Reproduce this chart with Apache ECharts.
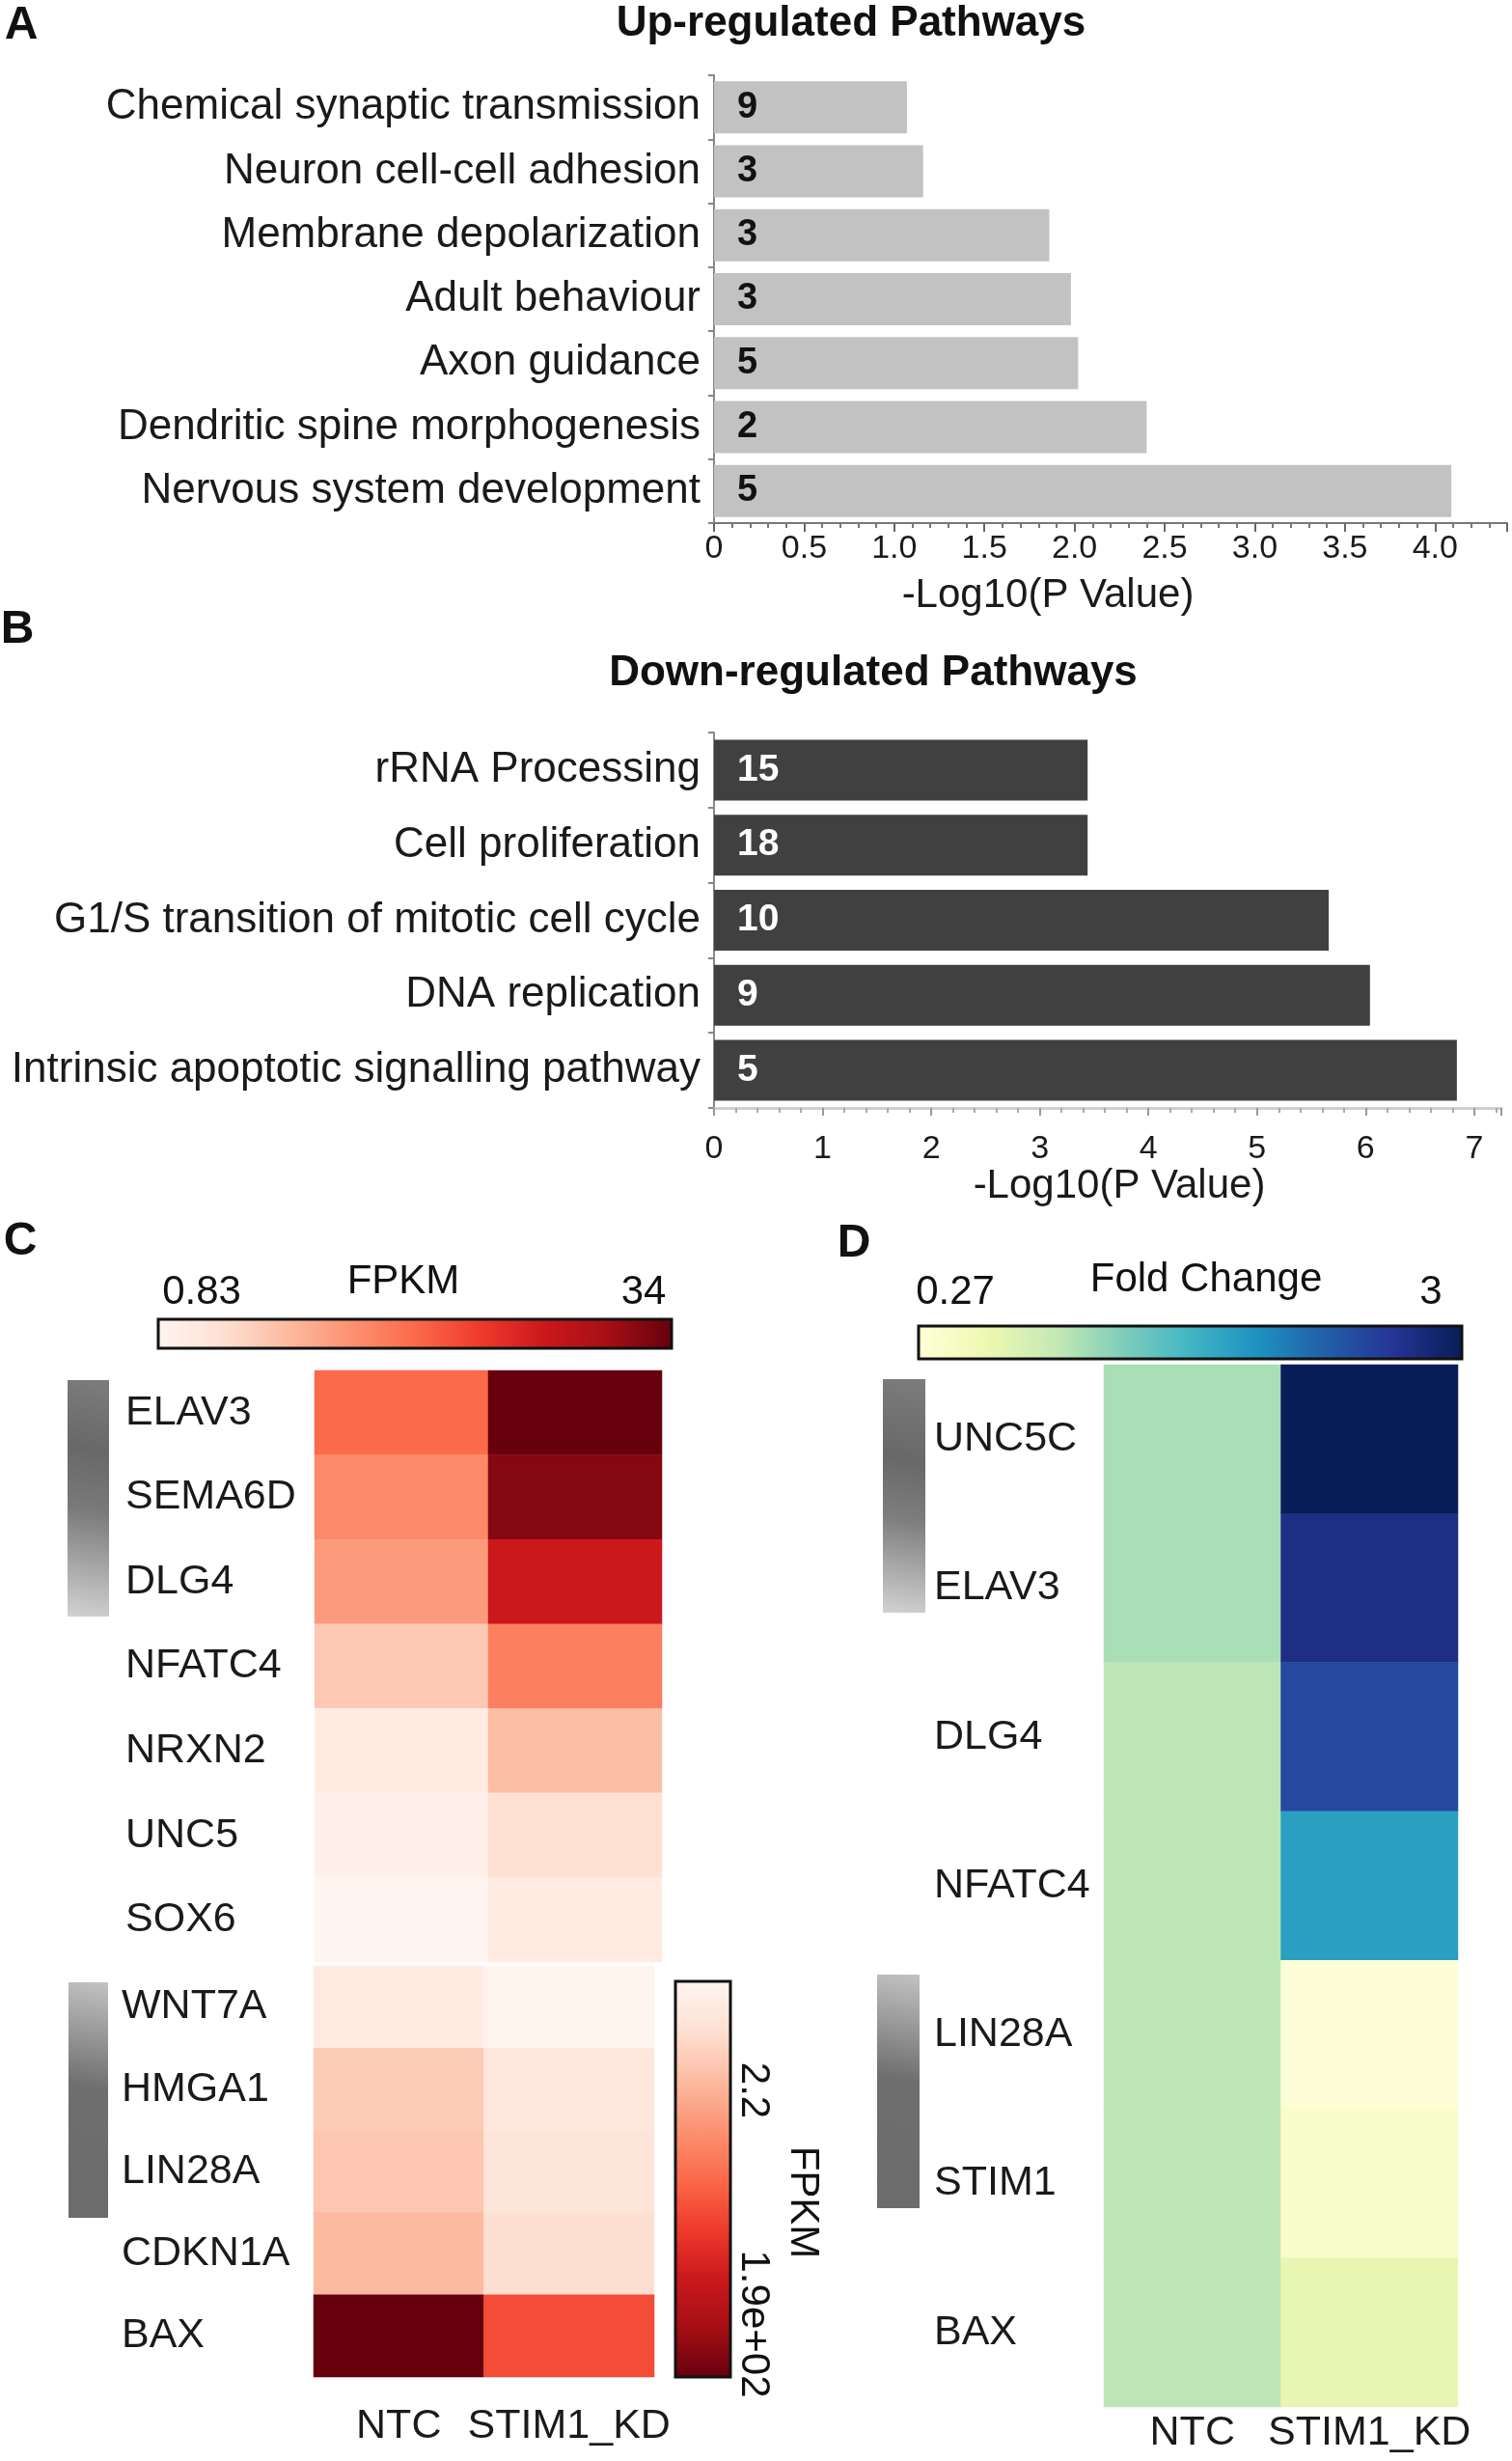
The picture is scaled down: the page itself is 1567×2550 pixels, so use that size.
<!DOCTYPE html>
<html>
<head>
<meta charset="utf-8">
<script src="https://cdn.jsdelivr.net/npm/echarts@6/dist/echarts.min.js"></script>
<style>
html,body{margin:0;padding:0;background:#fff;}
#chart{width:1567px;height:2550px;}
</style>
</head>
<body>
<div id="chart"></div>
<script>
// ---------- data ----------
const upCategories = ['Chemical synaptic transmission','Neuron cell-cell adhesion','Membrane depolarization','Adult behaviour','Axon guidance','Dendritic spine morphogenesis','Nervous system development'];
const upValues = [1.07, 1.16, 1.86, 1.98, 2.02, 2.40, 4.09];
const upCounts = [9, 3, 3, 3, 5, 2, 5];

const downCategories = ['rRNA Processing','Cell proliferation','G1/S transition of mitotic cell cycle','DNA replication','Intrinsic apoptotic signalling pathway'];
const downValues = [3.44, 3.44, 5.66, 6.04, 6.84];
const downCounts = [15, 18, 10, 9, 5];

const upTicks = ['0','0.5','1.0','1.5','2.0','2.5','3.0','3.5','4.0'];
const downTicks = ['0','1','2','3','4','5','6','7'];

const conditions = ['NTC','STIM1_KD'];

const neuroGenes = ['ELAV3','SEMA6D','DLG4','NFATC4','NRXN2','UNC5','SOX6'];
const neuroNTC = [17.4, 14.1, 12.4, 7.5, 2.8, 1.8, 1.0];
const neuroKD  = [34.0, 32.0, 25.7, 15.2, 8.8, 4.8, 2.8];

const prolifGenes = ['WNT7A','HMGA1','LIN28A','CDKN1A','BAX'];
const prolifNTC = [13.5, 39, 42, 49, 190];
const prolifKD  = [4.1, 17.8, 20, 25.7, 111];

const foldGenes = ['UNC5C','ELAV3','DLG4','NFATC4','LIN28A','STIM1','BAX'];
const foldNTC = [1.09, 1.09, 1.0, 1.0, 1.0, 1.0, 1.0];
const foldKD  = [3.0, 2.75, 2.49, 1.85, 0.30, 0.41, 0.655];

const fpkmRange1 = [0.83, 34];
const fpkmRange2 = [2.2, 190];
const foldRange = [0.27, 3];

// ---------- helpers ----------
const FONT = '"Liberation Sans", Arial, Helvetica, sans-serif';
const REDS = ['#fff5f0','#fee0d2','#fcbba1','#fc9272','#fb6a4a','#ef3b2c','#cb181d','#a50f15','#67000d'];
const YLGNBU = ['#ffffd9','#edf8b1','#c7e9b4','#7fcdbb','#41b6c4','#1d91c0','#225ea8','#253494','#081d58'];

function heat(ntc, kd) {
  const d = [];
  ntc.forEach((v, i) => d.push([0, i, v]));
  kd.forEach((v, i) => d.push([1, i, v]));
  return d;
}
function tickFormatter(labels, step) {
  return function (v) {
    const k = v / step;
    if (Math.abs(k - Math.round(k)) > 1e-6) return '';
    const idx = Math.round(k);
    return labels[idx] !== undefined ? labels[idx] : '';
  };
}
function txt(x, y, text, size, opts) {
  opts = opts || {};
  return {
    type: 'text', x: x, y: y, rotation: opts.rotation || 0, z: 100,
    style: {
      text: text, font: (opts.weight || 'normal') + ' ' + size + 'px ' + FONT,
      fill: opts.color || '#111', textAlign: opts.align || 'center', textVerticalAlign: 'middle'
    }
  };
}
function frame(x, y, w, h) {
  return { type: 'rect', z: 100, shape: { x: x, y: y, width: w, height: h },
           style: { fill: 'none', stroke: '#111', lineWidth: 3 } };
}
function shade(x, y, w, h, stops) {
  return { type: 'rect', z: 50, shape: { x: x, y: y, width: w, height: h },
           style: { fill: { type: 'linear', x: 1, y: 0, x2: 0, y2: 1,
             colorStops: stops.map(s => ({ offset: s[0], color: s[1] })) } } };
}

const catLabelStyle = { fontFamily: FONT, fontSize: 44, color: '#1a1a1a' };
const geneLabelStyle = { fontFamily: FONT, fontSize: 43, color: '#1a1a1a', align: 'left' };

const chart = echarts.init(document.getElementById('chart'), null, { renderer: 'canvas' });

const option = {
  backgroundColor: '#ffffff',
  animation: false,
  grid: [
    { left: 740, top: 78, width: 822, height: 464 },
    { left: 740, top: 759, width: 816, height: 389 },
    { left: 326, top: 1420, width: 360, height: 613 },
    { left: 325, top: 2037, width: 353, height: 426 },
    { left: 1144, top: 1414, width: 367, height: 1080 }
  ],
  xAxis: [
    { gridIndex: 0, type: 'value', min: 0, max: 4.4, interval: 0.5,
      name: '-Log10(P Value)', nameLocation: 'middle', nameGap: 54,
      nameTextStyle: { fontFamily: FONT, fontSize: 42, color: '#1a1a1a', padding: [0, 130, 0, 0] },
      axisLine: { show: true, lineStyle: { color: '#777', width: 2 } },
      axisTick: { show: true, length: 9, lineStyle: { color: '#666', width: 2 } },
      minorTick: { show: true, splitNumber: 5, length: 5, lineStyle: { color: '#777', width: 2 } },
      splitLine: { show: false },
      axisLabel: { margin: 10, fontFamily: FONT, fontSize: 34, color: '#1a1a1a',
                   formatter: tickFormatter(upTicks, 0.5), showMaxLabel: false } },
    { gridIndex: 1, type: 'value', min: 0, max: 7.25, interval: 1,
      name: '-Log10(P Value)', nameLocation: 'middle', nameGap: 60,
      nameTextStyle: { fontFamily: FONT, fontSize: 42, color: '#1a1a1a', padding: [0, 0, 0, 24] },
      axisLine: { show: true, lineStyle: { color: '#cfcfcf', width: 3 } },
      axisTick: { show: true, length: 8, lineStyle: { color: '#999', width: 2 } },
      minorTick: { show: true, splitNumber: 5, length: 5, lineStyle: { color: '#aaa', width: 2 } },
      splitLine: { show: false },
      axisLabel: { margin: 26, fontFamily: FONT, fontSize: 34, color: '#1a1a1a',
                   formatter: tickFormatter(downTicks, 1), showMaxLabel: false } },
    { gridIndex: 2, type: 'category', data: conditions, axisLine: { show: false }, axisTick: { show: false }, axisLabel: { show: false }, splitLine: { show: false } },
    { gridIndex: 3, type: 'category', data: conditions, axisLine: { show: false }, axisTick: { show: false },
      axisLabel: { show: true, interval: 0, margin: 30, fontFamily: FONT, fontSize: 43, color: '#1a1a1a' } },
    { gridIndex: 4, type: 'category', data: conditions, axisLine: { show: false }, axisTick: { show: false },
      axisLabel: { show: true, interval: 0, margin: 6, fontFamily: FONT, fontSize: 43, color: '#1a1a1a' } }
  ],
  yAxis: [
    { gridIndex: 0, type: 'category', data: upCategories, inverse: true,
      axisLine: { show: true, lineStyle: { color: '#888', width: 2 } },
      axisTick: { show: true, length: 6, lineStyle: { color: '#888', width: 2 } },
      axisLabel: Object.assign({ margin: 14, interval: 0 }, catLabelStyle) },
    { gridIndex: 1, type: 'category', data: downCategories, inverse: true,
      axisLine: { show: true, lineStyle: { color: '#888', width: 2 } },
      axisTick: { show: true, length: 6, lineStyle: { color: '#888', width: 2 } },
      axisLabel: Object.assign({ margin: 14, interval: 0 }, catLabelStyle) },
    { gridIndex: 2, type: 'category', data: neuroGenes, inverse: true,
      axisLine: { show: false }, axisTick: { show: false },
      axisLabel: Object.assign({ margin: 196, interval: 0 }, geneLabelStyle) },
    { gridIndex: 3, type: 'category', data: prolifGenes, inverse: true,
      axisLine: { show: false }, axisTick: { show: false },
      axisLabel: Object.assign({ margin: 199, interval: 0 }, geneLabelStyle) },
    { gridIndex: 4, type: 'category', data: foldGenes, inverse: true,
      axisLine: { show: false }, axisTick: { show: false },
      axisLabel: Object.assign({ margin: 176, interval: 0 }, geneLabelStyle) }
  ],
  visualMap: [
    { type: 'continuous', seriesIndex: 2, min: fpkmRange1[0], max: fpkmRange1[1],
      orient: 'horizontal', left: 164, top: 1367, itemWidth: 30, itemHeight: 532,
      padding: 0, calculable: false, text: null, showLabel: false,
      inRange: { color: REDS } },
    { type: 'continuous', seriesIndex: 3, min: fpkmRange2[0], max: fpkmRange2[1],
      orient: 'vertical', inverse: true, left: 700, top: 2053, itemWidth: 57, itemHeight: 410,
      padding: 0, calculable: false, text: null,
      inRange: { color: REDS } },
    { type: 'continuous', seriesIndex: 4, min: foldRange[0], max: foldRange[1],
      orient: 'horizontal', left: 952, top: 1374, itemWidth: 34, itemHeight: 563,
      padding: 0, calculable: false, text: null,
      inRange: { color: YLGNBU } }
  ],
  series: [
    { type: 'bar', xAxisIndex: 0, yAxisIndex: 0, data: upValues, barWidth: 54,
      itemStyle: { color: '#c2c2c2' },
      label: { show: true, position: 'insideLeft', distance: 24, fontFamily: FONT, fontSize: 38, fontWeight: 'bold', color: '#111',
               formatter: p => String(upCounts[p.dataIndex]) } },
    { type: 'bar', xAxisIndex: 1, yAxisIndex: 1, data: downValues, barWidth: 63,
      itemStyle: { color: '#404040' },
      label: { show: true, position: 'insideLeft', distance: 24, fontFamily: FONT, fontSize: 39, fontWeight: 'bold', color: '#ffffff',
               formatter: p => String(downCounts[p.dataIndex]) } },
    { type: 'heatmap', xAxisIndex: 2, yAxisIndex: 2, data: heat(neuroNTC, neuroKD),
      itemStyle: { borderWidth: 0 }, emphasis: { disabled: true } },
    { type: 'heatmap', xAxisIndex: 3, yAxisIndex: 3, data: heat(prolifNTC, prolifKD),
      itemStyle: { borderWidth: 0 }, emphasis: { disabled: true } },
    { type: 'heatmap', xAxisIndex: 4, yAxisIndex: 4, data: heat(foldNTC, foldKD),
      itemStyle: { borderWidth: 0 }, emphasis: { disabled: true } }
  ],
  graphic: [
    txt(22, 27, 'A', 48, { weight: 'bold' }),
    txt(882, 25, 'Up-regulated Pathways', 44, { weight: 'bold' }),
    txt(18, 653, 'B', 48, { weight: 'bold' }),
    txt(905, 698, 'Down-regulated Pathways', 44, { weight: 'bold' }),
    txt(21, 1287, 'C', 48, { weight: 'bold' }),
    txt(885, 1289, 'D', 48, { weight: 'bold' }),
    // colour bar captions
    txt(209, 1339, '0.83', 42),
    txt(418, 1328, 'FPKM', 42),
    txt(667, 1339, '34', 42),
    txt(990, 1339, '0.27', 42),
    txt(1250, 1326, 'Fold Change', 42),
    txt(1483, 1339, '3', 42),
    txt(781, 2166, '2.2', 42, { rotation: -Math.PI / 2 }),
    txt(781, 2408, '1.9e+02', 42, { rotation: -Math.PI / 2 }),
    txt(832, 2282, 'FPKM', 42, { rotation: -Math.PI / 2 }),
    frame(164, 1367, 532, 30),
    frame(700, 2053, 57, 410),
    frame(952, 1374, 563, 34),
    // grey group markers
    shade(70, 1430, 43, 245, [[0, '#7c7c7c'], [0.3, '#686868'], [0.55, '#7a7a7a'], [1, '#d2d2d2']]),
    shade(71, 2054, 41, 244, [[0, '#c2c2c2'], [0.45, '#6e6e6e'], [1, '#6c6c6c']]),
    shade(915, 1429, 44, 242, [[0, '#7c7c7c'], [0.35, '#686868'], [0.6, '#7e7e7e'], [1, '#d2d2d2']]),
    shade(909, 2046, 44, 242, [[0, '#c2c2c2'], [0.45, '#6e6e6e'], [1, '#6c6c6c']])
  ]
};
chart.setOption(option);
</script>
</body>
</html>
